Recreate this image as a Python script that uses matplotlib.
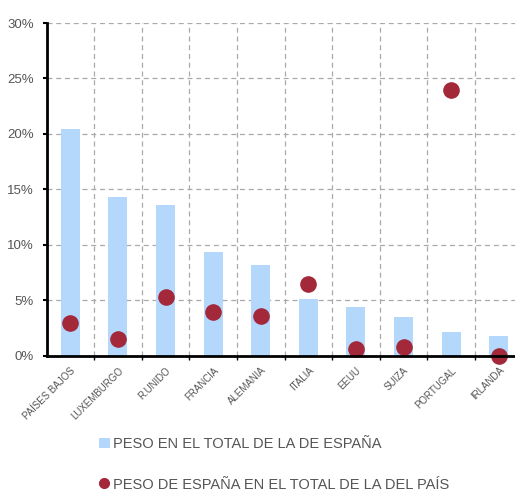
import matplotlib.pyplot as plt
from matplotlib.patches import Patch
from matplotlib.lines import Line2D
from matplotlib.ticker import MultipleLocator, FuncFormatter

plt.rcParams['font.family'] = ['Liberation Sans', 'DejaVu Sans']

paises = ['PAÍSES BAJOS', 'LUXEMBURGO', 'R.UNIDO', 'FRANCIA', 'ALEMANIA',
          'ITALIA', 'EEUU', 'SUIZA', 'PORTUGAL', 'IRLANDA']
peso_total_espana = [20.4, 14.3, 13.55, 9.3, 8.2, 5.1, 4.4, 3.45, 2.15, 1.75]
peso_espana_pais = [2.9, 1.5, 5.25, 3.95, 3.55, 6.45, 0.55, 0.8, 23.95, 0.0]

azul = '#b3d8fc'
rojo = '#a3283a'
gris = '#555555'

fig = plt.figure(figsize=(5.15, 4.93), dpi=100)
ax = fig.add_axes([0.0903, 0.2789, 0.9243, 0.6744])

x = range(len(paises))
ax.bar(x, peso_total_espana, width=0.4, color=azul, zorder=2)
ax.scatter(x, peso_espana_pais, s=120, color=rojo, zorder=3, clip_on=False)

ax.set_xlim(-0.5, 9.5)
ax.set_ylim(0, 30)
ax.yaxis.set_major_locator(MultipleLocator(5))
ax.yaxis.set_major_formatter(FuncFormatter(lambda v, p: f'{v:.0f}%'))

ax.set_xticks(list(x))
ax.set_xticklabels(paises, rotation=45, ha='right', va='top',
                   rotation_mode='anchor', fontsize=7, color=gris)
ax.set_xticks([i + 0.5 for i in range(len(paises))], minor=True)
ax.tick_params(axis='x', which='major', length=0, pad=7)
ax.tick_params(axis='x', which='minor', length=3, width=1, color='black')
ax.tick_params(axis='y', labelsize=9.5, labelcolor=gris, length=3, width=1.5, pad=6)

ax.grid(axis='y', which='major', linestyle=(0, (4, 3)), color='#aaaaaa', linewidth=0.9, zorder=1)
ax.grid(axis='x', which='minor', linestyle=(0, (4, 3)), color='#aaaaaa', linewidth=0.9, zorder=1)

for s in ['top', 'right']:
    ax.spines[s].set_visible(False)
for s in ['left', 'bottom']:
    ax.spines[s].set_linewidth(2)
    ax.spines[s].set_zorder(4)

handles = [
    Patch(facecolor=azul, edgecolor='none'),
    Line2D([], [], marker='o', linestyle='none', color=rojo, markersize=7),
]
labels = ['PESO EN EL TOTAL DE LA DE ESPAÑA', 'PESO DE ESPAÑA EN EL TOTAL DE LA DEL PAÍS']
leg = fig.legend(handles, labels, loc='upper left', bbox_to_anchor=(0.193, 0.113),
                 frameon=False, fontsize=10.5, labelcolor=gris, handlelength=0.7,
                 handleheight=0.7, handletextpad=0.25, labelspacing=1.8,
                 borderaxespad=0, borderpad=0)

fig.savefig('out.png', dpi=100)
